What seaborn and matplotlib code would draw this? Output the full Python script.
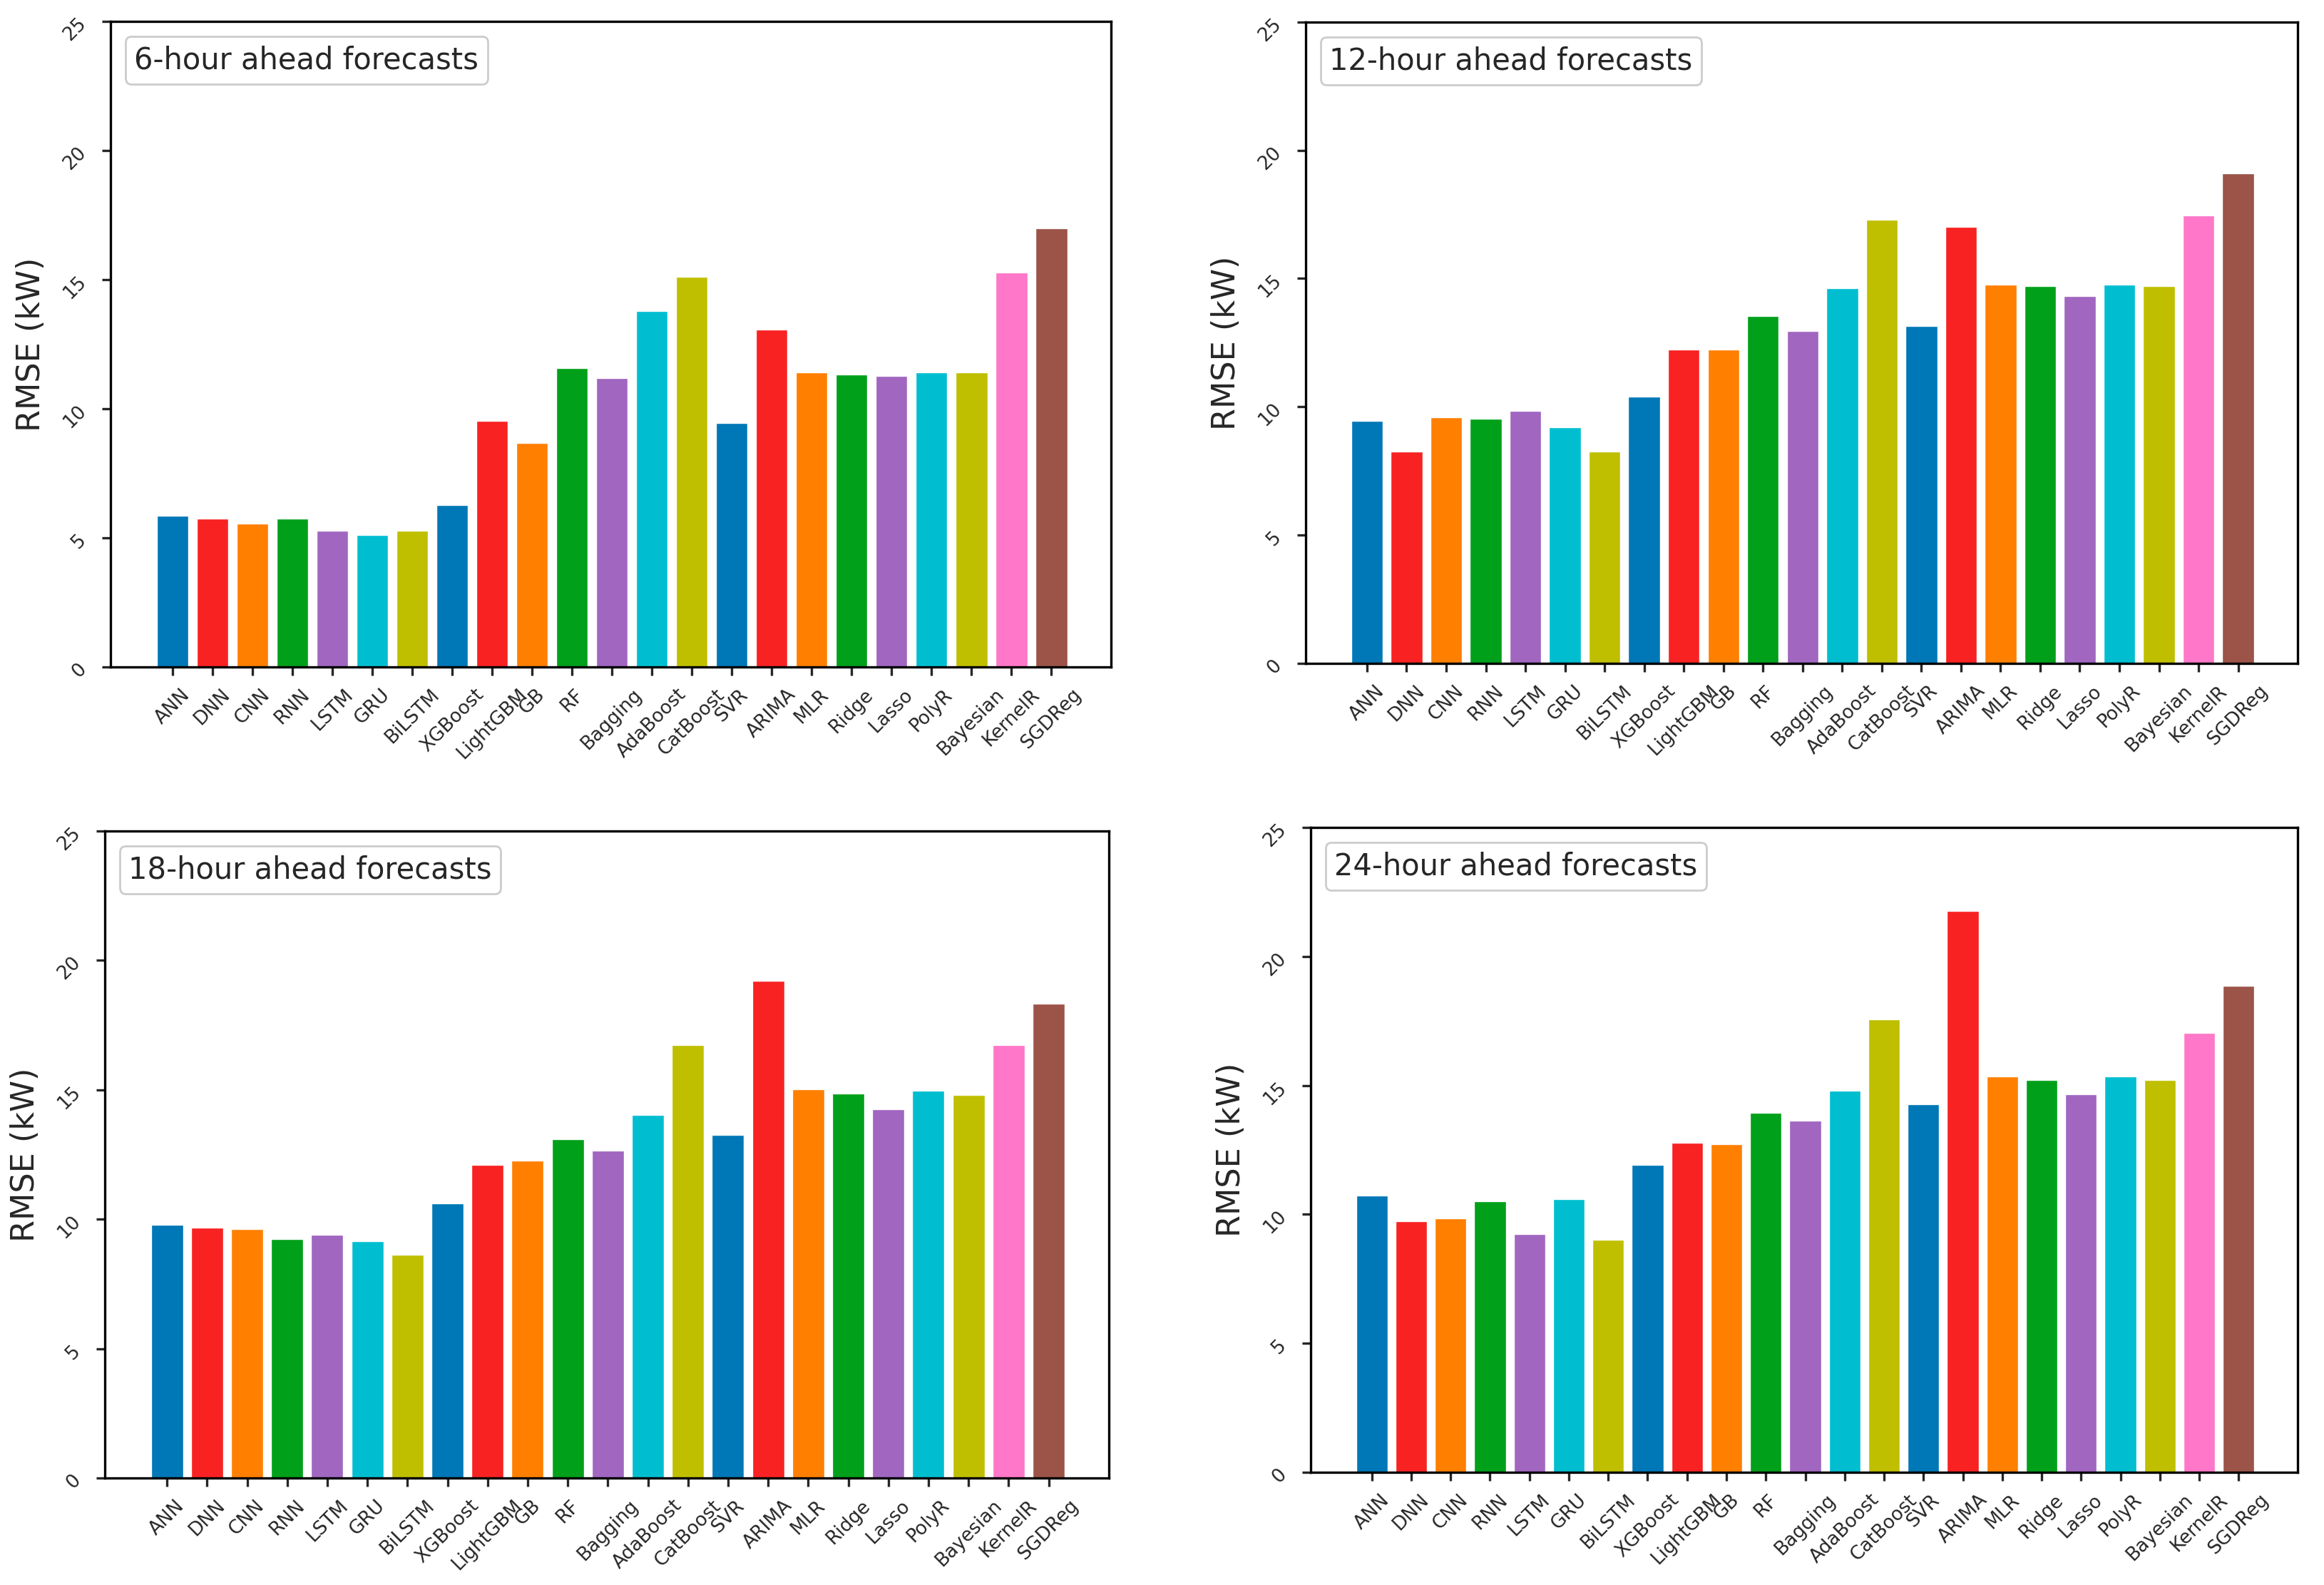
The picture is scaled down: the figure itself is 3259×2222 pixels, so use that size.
import numpy as np
import pandas as pd
import matplotlib
matplotlib.use("Agg")
import matplotlib.pyplot as plt
import seaborn as sns
from matplotlib.offsetbox import AnchoredText

# Models on the x axis
models = ["ANN", "DNN", "CNN", "RNN", "LSTM", "GRU", "BiLSTM", "XGBoost",
          "LightGBM", "GB", "RF", "Bagging", "AdaBoost", "CatBoost", "SVR",
          "ARIMA", "MLR", "Ridge", "Lasso", "PolyR", "Bayesian", "KernelR",
          "SGDReg"]

# RMSE (kW)
rmse_6h = [5.87, 5.76, 5.54, 5.76, 5.27, 5.10, 5.27, 6.26, 9.52, 8.68, 11.57,
           11.20, 13.78, 15.10, 9.46, 13.06, 11.40, 11.34, 11.28, 11.41, 11.40,
           15.27, 16.98]
rmse_12h = [9.46, 8.25, 9.59, 9.54, 9.85, 9.20, 8.25, 10.41, 12.23, 12.23,
            13.55, 12.95, 14.63, 17.30, 13.16, 17.02, 14.76, 14.70, 14.31,
            14.76, 14.70, 17.47, 19.11]
rmse_18h = [9.79, 9.67, 9.61, 9.24, 9.39, 9.14, 8.63, 10.61, 12.11, 12.27,
            13.09, 12.66, 14.04, 16.74, 13.26, 19.22, 15.02, 14.86, 14.26,
            14.96, 14.80, 16.74, 18.34]
rmse_24h = [10.74, 9.74, 9.84, 10.52, 9.23, 10.58, 9.01, 11.93, 12.79, 12.72,
            13.93, 13.64, 14.81, 17.57, 14.26, 21.77, 15.36, 15.20, 14.66,
            15.36, 15.20, 17.03, 18.85]

titles = ["6-hour ahead forecasts", "12-hour ahead forecasts",
          "18-hour ahead forecasts", "24-hour ahead forecasts"]

# bar colours: 7 colour cycle, then pink and brown for the last two
base = ["#0077b6", "#f82222", "#ff7f00", "#00a01a", "#a066c0", "#00bed0", "#bfbf00"]
colors = base * 3 + ["#ff77c8", "#9c5448"]

sns.set_style("ticks")
plt.rcParams["font.family"] = ["DejaVu Sans"]

fig = plt.figure(figsize=(16.295, 11.11), dpi=200)

# axes boxes (left, bottom, width, height) in figure fraction
boxes = [
    [0.0476, 0.5792, 0.4305, 0.4073],
    [0.5618, 0.5815, 0.4268, 0.4046],
    [0.0451, 0.0675, 0.4320, 0.4082],
    [0.5640, 0.0711, 0.4247, 0.4068],
]

series = [rmse_6h, rmse_12h, rmse_18h, rmse_24h]

for box, vals, title in zip(boxes, series, titles):
    ax = fig.add_axes(box)
    df = pd.DataFrame({"Model": models, "RMSE": vals})
    sns.barplot(data=df, x="Model", y="RMSE", hue="Model", palette=colors,
                legend=False, saturation=1, width=0.8, edgecolor="white",
                linewidth=0.5, ax=ax)
    ax.set_xlim(-1.55, 23.5)
    ax.set_ylim(0, 25)
    ax.set_yticks([0, 5, 10, 15, 20, 25])
    ax.set_xlabel("")
    ax.set_ylabel("RMSE (kW)", fontsize=16, labelpad=7)
    ax.tick_params(axis="x", labelrotation=45, labelsize=9.5, length=4.3,
                   width=1.2, pad=5)
    ax.tick_params(axis="y", labelrotation=45, labelsize=9.5, length=4.3,
                   width=1.2, pad=6)
    for s in ax.spines.values():
        s.set_linewidth(1.2)
        s.set_color("black")

    at = AnchoredText(title, loc="upper left", pad=0.3, borderpad=0.5,
                      prop=dict(size=15), frameon=True)
    at.patch.set_boxstyle("round,pad=0,rounding_size=0.2")
    at.patch.set_edgecolor("0.8")
    at.patch.set_linewidth(1.0)
    ax.add_artist(at)

fig.savefig("out.png", dpi=200)
